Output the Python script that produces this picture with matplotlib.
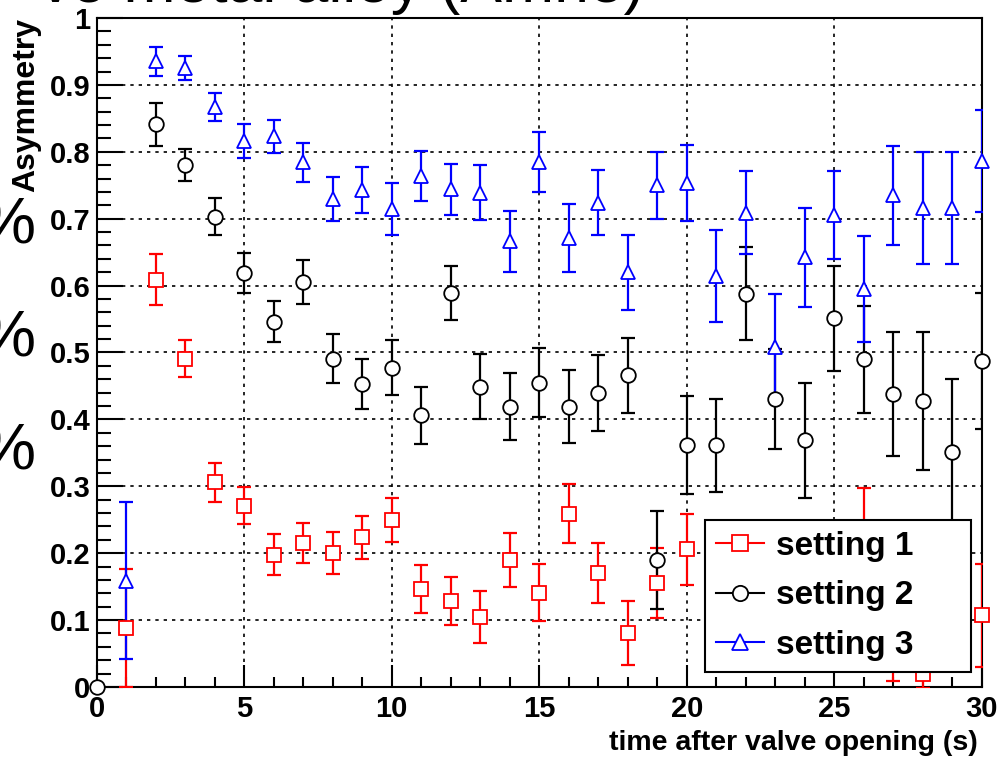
import numpy as np
import matplotlib.pyplot as plt
from matplotlib.lines import Line2D
from matplotlib.ticker import MultipleLocator, FuncFormatter

nan = np.nan

# time after valve opening (s)
time_s = np.arange(0, 31)

# setting 1 (red squares); points hidden behind the legend are left out
setting1 = [nan, 0.088, 0.609, 0.491, 0.306, 0.271, 0.198, 0.215, 0.200, 0.224,
            0.249, 0.146, 0.128, 0.104, 0.190, 0.141, 0.259, 0.170, 0.081, 0.155,
            0.206, nan, nan, nan, nan, nan, 0.230, 0.070, 0.020, nan,
            0.107]
setting1_err = [0, 0.088, 0.038, 0.028, 0.029, 0.028, 0.030, 0.030, 0.031, 0.032,
                0.033, 0.036, 0.036, 0.039, 0.040, 0.043, 0.044, 0.045, 0.048, 0.052,
                0.053, 0, 0, 0, 0, 0, 0.068, 0.061, 0.022, 0,
                0.077]

# setting 2 (black circles)
setting2 = [0.0, nan, 0.841, 0.780, 0.703, 0.619, 0.546, 0.605, 0.491, 0.453,
            0.477, 0.406, 0.589, 0.449, 0.419, 0.455, 0.419, 0.439, 0.466, 0.190,
            0.362, 0.361, 0.588, 0.430, 0.369, 0.551, 0.490, 0.438, 0.428, 0.351,
            0.487]
setting2_err = [0, 0, 0.032, 0.024, 0.028, 0.030, 0.031, 0.033, 0.036, 0.038,
                0.041, 0.043, 0.040, 0.049, 0.050, 0.052, 0.055, 0.057, 0.056, 0.073,
                0.073, 0.070, 0.070, 0.075, 0.086, 0.079, 0.080, 0.092, 0.103, 0.110,
                0.102]

# setting 3 (blue triangles)
setting3 = [nan, 0.159, 0.935, 0.925, 0.867, 0.816, 0.823, 0.784, 0.730, 0.743,
            0.715, 0.764, 0.744, 0.739, 0.666, 0.785, 0.671, 0.724, 0.620, 0.750,
            0.753, 0.614, 0.709, 0.508, 0.642, 0.706, 0.595, 0.735, 0.716, 0.716,
            0.786]
setting3_err = [0, 0.117, 0.022, 0.018, 0.021, 0.025, 0.025, 0.029, 0.033, 0.034,
                0.039, 0.037, 0.038, 0.041, 0.045, 0.045, 0.051, 0.049, 0.056, 0.050,
                0.057, 0.069, 0.062, 0.080, 0.074, 0.066, 0.079, 0.074, 0.084, 0.084,
                0.076]

series = [
    ("setting 1", setting1, setting1_err, "#ff0000", "s"),
    ("setting 2", setting2, setting2_err, "black", "o"),
    ("setting 3", setting3, setting3_err, "#0000ff", "^"),
]

FONT = "Liberation Sans"
plt.rcParams["font.family"] = [FONT, "DejaVu Sans"]

fig = plt.figure(figsize=(9.98, 7.59), dpi=100)
ax = fig.add_axes([0.0969, 0.0949, 0.8868, 0.8814])

handles = []
for label, vals, errs, col, mk in series:
    vals = np.array(vals, dtype=float)
    errs = np.array(errs, dtype=float)
    ok = ~np.isnan(vals)
    ax.errorbar(time_s[ok], vals[ok], yerr=errs[ok], fmt="none", ecolor=col,
                elinewidth=1.6, capsize=5, capthick=1.6, zorder=3)
    ax.plot(time_s[ok], vals[ok], ls="none", marker=mk, ms=10.5, mfc="white",
            mec=col, mew=1.3, zorder=4, clip_on=False)
    handles.append(Line2D([], [], color=col, lw=1.5, marker=mk, ms=11,
                          mfc="white", mec=col, mew=1.3, label=label))

ax.set_xlim(0, 30)
ax.set_ylim(0, 1)
ax.xaxis.set_major_locator(MultipleLocator(5))
ax.xaxis.set_minor_locator(MultipleLocator(1))
ax.yaxis.set_major_locator(MultipleLocator(0.1))
ax.yaxis.set_minor_locator(MultipleLocator(0.02))
ax.yaxis.set_major_formatter(FuncFormatter(lambda v, _: f"{v:g}"))

ax.grid(True, which="major", color="black", linestyle=(0, (2, 3)), linewidth=1.2)
ax.set_axisbelow(True)

for sp in ax.spines.values():
    sp.set_linewidth(1.5)

ax.tick_params(axis="y", which="major", direction="in", length=19, width=1.5,
               pad=4.5, labelsize=21)
ax.tick_params(axis="y", which="minor", direction="in", length=10, width=1.5)
ax.tick_params(axis="x", which="major", direction="in", length=16, width=1.5,
               pad=6, labelsize=21)
ax.tick_params(axis="x", which="minor", direction="in", length=7, width=1.5)
for lab in ax.get_xticklabels() + ax.get_yticklabels():
    lab.set_fontweight("bold")

ax.set_xlabel("time after valve opening (s)", fontsize=20.5, fontweight="bold", loc="right")
ax.xaxis.set_label_coords(0.9958, -0.065)
ax.set_ylabel("Asymmetry", fontsize=23, fontweight="bold", loc="top")
ax.yaxis.set_label_coords(-0.063, 1.0)

leg = ax.legend(handles=handles, loc="lower left",
                bbox_to_anchor=(705 / 998, 1 - 671.7 / 759, 265.7 / 998, 0.2),
                bbox_transform=fig.transFigure, mode="expand",
                prop=dict(family=FONT, weight="bold", size=24),
                fancybox=False, edgecolor="black", framealpha=1,
                borderpad=0.32, labelspacing=0.56, handlelength=1.45,
                handletextpad=0.35, borderaxespad=0)
leg.get_frame().set_linewidth(1.5)
leg.set_zorder(10)

# cropped slide text around the plot
fig.text(40 / 998, 1 - 2 / 759, "ve metal alloy (Amne)", fontsize=45,
         ha="left", va="baseline")
for yb in (243, 357, 470):
    fig.text(-0.022, 1 - yb / 759, "%", fontsize=47, ha="left", va="baseline")

fig.savefig("out.png", dpi=100)
